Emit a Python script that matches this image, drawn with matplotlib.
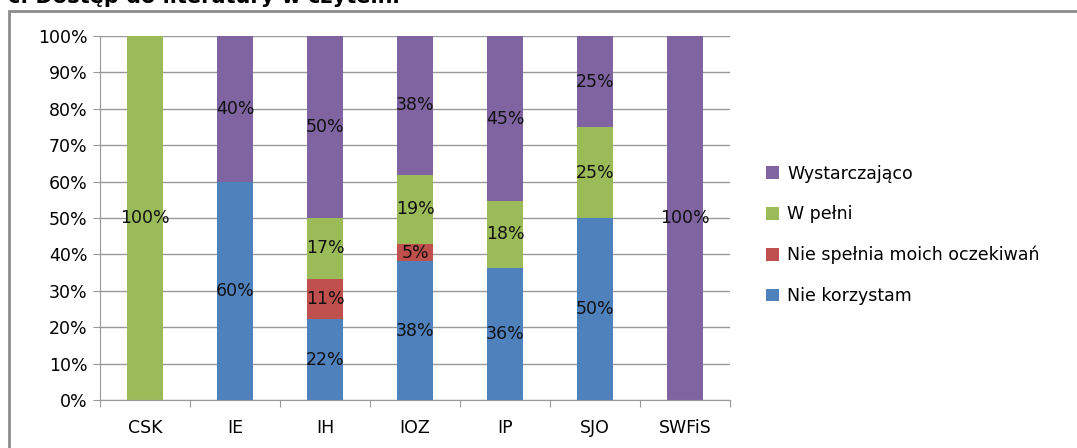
import matplotlib.pyplot as plt
import numpy as np
from matplotlib.patches import Rectangle

categories = ['CSK', 'IE', 'IH', 'IOZ', 'IP', 'SJO', 'SWFiS']
nie_korzystam = [0, 60, 22.2, 38.1, 36.4, 50, 0]
nie_spelnia = [0, 0, 11.1, 4.8, 0, 0, 0]
w_pelni = [100, 0, 16.7, 19.0, 18.2, 25, 0]
wystarczajaco = [0, 40, 50.0, 38.1, 45.4, 25, 100]

series = [('Nie korzystam', nie_korzystam, '#4F81BD'),
          ('Nie spełnia moich oczekiwań', nie_spelnia, '#C0504D'),
          ('W pełni', w_pelni, '#9BBB59'),
          ('Wystarczająco', wystarczajaco, '#8064A2')]

plt.rcParams['font.family'] = ['DejaVu Sans']
fig = plt.figure(figsize=(10.77, 4.48), dpi=100)
ax = fig.add_axes([0.0929, 0.1071, 0.5849, 0.8125])

x = np.arange(len(categories))
bottom = np.zeros(len(categories))
handles = []
for name, vals, col in series:
    vals = np.array(vals, dtype=float)
    bars = ax.bar(x, vals, 0.4, bottom=bottom, color=col, label=name, zorder=2)
    handles.append(bars)
    for xi, b, v in zip(x, bottom, vals):
        if v > 0:
            ax.text(xi, b + v / 2, '%d%%' % round(v), ha='center', va='center',
                    fontsize=12.5, color='#111111', zorder=3)
    bottom += vals

ax.set_xlim(-0.5, len(categories) - 0.5)
ax.set_ylim(0, 100)
ax.set_yticks(np.arange(0, 101, 10))
ax.set_yticklabels(['%d%%' % v for v in range(0, 101, 10)], fontsize=12.5)
ax.yaxis.grid(True, color='#999999', linewidth=1, zorder=0)
ax.set_axisbelow(True)

ax.set_xticks(np.arange(-0.5, len(categories), 1))
ax.set_xticklabels([])
ax.set_xticks(x, minor=True)
ax.set_xticklabels(categories, minor=True, fontsize=12.5)
ax.tick_params(axis='x', which='minor', length=0, pad=14)
ax.tick_params(axis='x', which='major', length=5, color='#999999', direction='out')
ax.tick_params(axis='y', length=5, color='#999999', direction='out', pad=4)

for s in ['top', 'right']:
    ax.spines[s].set_visible(False)
for s in ['left', 'bottom']:
    ax.spines[s].set_color('#999999')

leg = fig.legend(handles[::-1], [s[0] for s in series][::-1], loc='upper left',
                 bbox_to_anchor=(0.697, 0.667), frameon=False, fontsize=12.5,
                 handlelength=0.75, handleheight=0.75, handletextpad=0.45,
                 labelspacing=1.3)

# outer chart frame
fig.patches.append(Rectangle((9 / 1077, -0.05), 1.1, 1 - 11 / 448 + 0.05,
                             transform=fig.transFigure, fill=False,
                             edgecolor='#8c8c8c', linewidth=2))

fig.text(8 / 1077, 1 - 3 / 448, 'c. Dostęp do literatury w czytelni',
         fontsize=15, fontweight='bold', va='baseline', ha='left')

fig.savefig('out.png', dpi=100)
